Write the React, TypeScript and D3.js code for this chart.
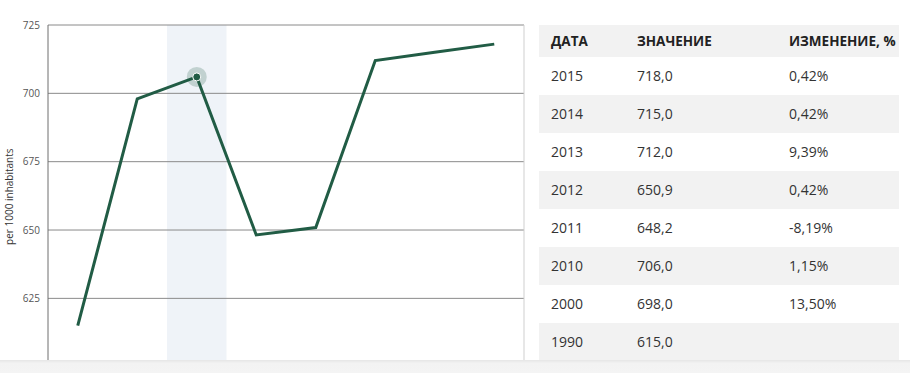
import React from "react";
import * as d3 from "d3";

const years = ["1990", "2000", "2010", "2011", "2012", "2013", "2014", "2015"];
const values = [615.0, 698.0, 706.0, 648.2, 650.9, 712.0, 715.0, 718.0];
const changes = ["", "13,50%", "1,15%", "-8,19%", "0,42%", "9,39%", "0,42%", "0,42%"];
const yTicks = [625, 650, 675, 700, 725];
const headers = ["ДАТА", "ЗНАЧЕНИЕ", "ИЗМЕНЕНИЕ, %"];
const highlightYear = "2010";
const yLabel = "per 1000 inhabitants";

const W = 910;
const H = 373;
const FONT = "'Open Sans', 'Noto Sans', sans-serif";

export default function App() {
  const x = d3.scaleBand<string>().domain(years).range([48, 524]);
  const y = d3.scaleLinear().domain([600, 725]).range([366.7, 25]);
  const cx = (yr: string) => (x(yr) as number) + x.bandwidth() / 2;

  const pts = years.map((yr, i) => [cx(yr), y(values[i])] as [number, number]);
  const line = d3.line<[number, number]>()(pts) || "";

  const hiIdx = years.indexOf(highlightYear);

  // table
  const tableX0 = 539;
  const tableX1 = 899;
  const headerTop = 25;
  const headerH = 32;
  const rowH = 38;
  const colX = [551, 637, 789];
  const rows = years
    .map((yr, i) => ({ yr, v: values[i], c: changes[i] }))
    .reverse();

  return (
    <svg
      width={W}
      height={H}
      style={{ position: "absolute", left: 0, top: 0, background: "#fff" }}
      fontFamily={FONT}
    >
      <defs>
        <clipPath id="plotclip">
          <rect x={48} y={0} width={476} height={361} />
        </clipPath>
        <linearGradient id="stripgrad" x1="0" y1="0" x2="0" y2="1">
          <stop offset="0" stopColor="#e6e6e6" />
          <stop offset="0.25" stopColor="#f3f3f3" />
          <stop offset="1" stopColor="#f4f4f4" />
        </linearGradient>
      </defs>

      {/* highlight band */}
      <rect
        x={x(highlightYear)}
        y={25}
        width={x.bandwidth()}
        height={361 - 25}
        fill="#eff3f8"
      />

      {/* grid */}
      {yTicks.map((t) => (
        <g key={t}>
          <line x1={48} x2={524} y1={y(t)} y2={y(t)} stroke="#8a8a8a" strokeWidth={1} />
          <text
            x={40}
            y={y(t)}
            dy="0.35em"
            textAnchor="end"
            fontSize={10}
            fill="#555"
          >
            {t}
          </text>
        </g>
      ))}

      {/* axes */}
      <line x1={48} x2={48} y1={25} y2={361} stroke="#6e6e6e" strokeWidth={1} />
      <line x1={524} x2={524} y1={25} y2={361} stroke="#cfcfcf" strokeWidth={1} />

      <text
        transform={`translate(13,${y(675) + 35}) rotate(-90)`}
        textAnchor="middle"
        fontSize={10}
        fill="#333"
      >
        {yLabel}
      </text>

      {/* line */}
      <g clipPath="url(#plotclip)">
        <path d={line} fill="none" stroke="#215c45" strokeWidth={3} strokeLinejoin="miter" />
      </g>

      {/* hover marker */}
      <circle cx={pts[hiIdx][0]} cy={pts[hiIdx][1]} r={10} fill="#215c45" fillOpacity={0.22} />
      <circle
        cx={pts[hiIdx][0]}
        cy={pts[hiIdx][1]}
        r={4}
        fill="#215c45"
        stroke="#fff"
        strokeWidth={1}
      />

      {/* table */}
      <rect x={tableX0} y={headerTop} width={tableX1 - tableX0} height={headerH} fill="#f2f2f2" />
      {headers.map((h, i) => (
        <text
          key={h}
          x={colX[i]}
          y={headerTop + headerH / 2}
          dy="0.35em"
          fontSize={13.5}
          fontWeight={700}
          fill="#222"
        >
          {h}
        </text>
      ))}
      {rows.map((r, i) => {
        const top = headerTop + headerH + i * rowH;
        const cy = top + rowH / 2;
        return (
          <g key={r.yr}>
            {i % 2 === 1 && (
              <rect x={tableX0} y={top} width={tableX1 - tableX0} height={rowH} fill="#f2f2f2" />
            )}
            <text x={colX[0]} y={cy} dy="0.35em" fontSize={14} fill="#333">
              {r.yr}
            </text>
            <text x={colX[1]} y={cy} dy="0.35em" fontSize={14} fill="#333">
              {r.v.toFixed(1).replace(".", ",")}
            </text>
            <text x={colX[2]} y={cy} dy="0.35em" fontSize={14} fill="#333">
              {r.c}
            </text>
          </g>
        );
      })}

      {/* bottom strip */}
      <rect x={0} y={360} width={W} height={H - 360} fill="url(#stripgrad)" />
    </svg>
  );
}
